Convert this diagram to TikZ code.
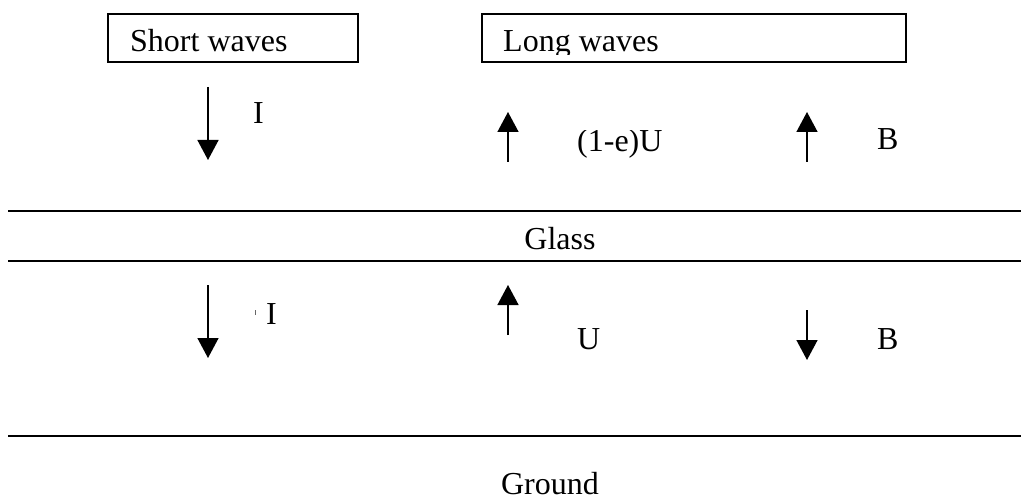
\documentclass[tikz,border=0pt]{standalone}
\usepackage{fontspec}
\setmainfont{Liberation Serif}
\usetikzlibrary{arrows.meta}

\begin{document}
\begin{tikzpicture}[x=1pt,y=-1pt,
  label/.style={anchor=base west,inner sep=0pt,font=\fontsize{32}{38}\selectfont},
  layer/.style={anchor=base,inner sep=0pt,font=\fontsize{32}{38}\selectfont},
  flux/.style={line width=1.5pt,-{Triangle[width=21pt,length=20pt]}},
  wavebox/.style={line width=1.5pt},
  surface/.style={line width=2pt}]

\useasboundingbox (0,0) rectangle (1021,500);

% the two boxes
\draw[wavebox] (108,14) rectangle (358,62);
\draw[wavebox] (482,14) rectangle (906,62);
\node[label] (short) at (130,52) {Short waves};
\begin{scope}
\clip (482,14) rectangle (906,55);
\node[label] (long) at (503,52) {Long waves};
\end{scope}

% arrows above the glass
\coordinate (s1a) at (208,87);  \coordinate (s1b) at (208,160);
\coordinate (u1a) at (508,162); \coordinate (u1b) at (508,112);
\coordinate (b1a) at (807,162); \coordinate (b1b) at (807,112);
\draw[flux] (s1a) -- (s1b);
\draw[flux] (u1a) -- (u1b);
\draw[flux] (b1a) -- (b1b);
\node[label] (i1) at (253,124) {I};
\begin{scope}
\clip (560,131) rectangle (700,170);
\node[label] (u1) at (577,152) {(1-e)U};
\end{scope}
\node[label] (b1) at (877,150) {B};

% glass
\draw[surface] (8,211) -- (1021,211);
\draw[surface] (8,261) -- (1021,261);
\node[layer] (glass) at (560,250) {Glass};

% arrows below the glass
\coordinate (s2a) at (208,285); \coordinate (s2b) at (208,358);
\coordinate (u2a) at (508,335); \coordinate (u2b) at (508,285);
\coordinate (b2a) at (807,310); \coordinate (b2b) at (807,360);
\draw[flux] (s2a) -- (s2b);
\draw[flux] (u2a) -- (u2b);
\draw[flux] (b2a) -- (b2b);
\draw[line width=0.8pt,black!60] (255,310) -- (255,315);
\node[label] (i2) at (266,324) {I};
\node[label] (u2) at (577,349) {U};
\node[label] (b2) at (877,349) {B};

% ground
\draw[surface] (8,436) -- (1021,436);
\node[layer] (ground) at (550,494) {Ground};
\end{tikzpicture}
\end{document}
